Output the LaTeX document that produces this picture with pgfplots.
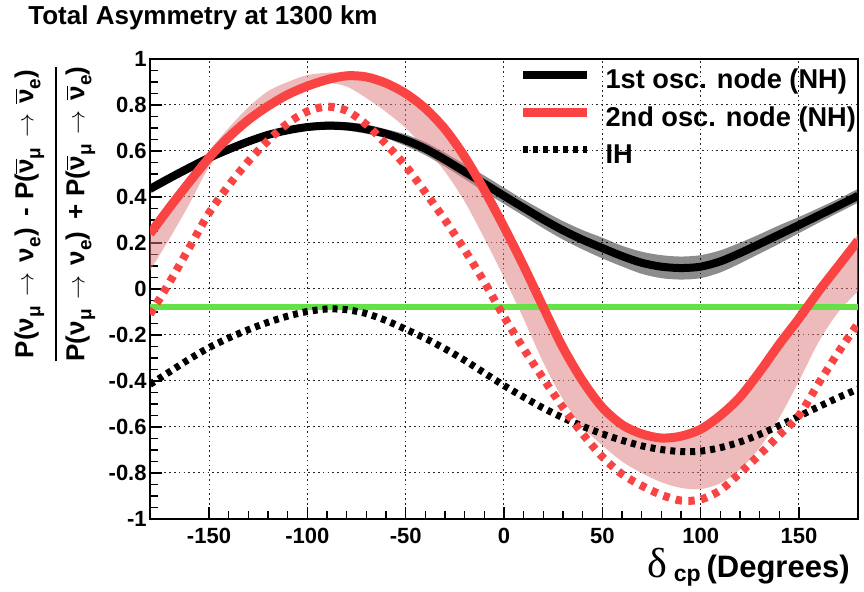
\documentclass[border=0pt]{standalone}
\usepackage{amsmath}
\usepackage{fontspec}
\setmainfont{Liberation Sans}
\newfontfamily\seriffont{Liberation Serif}
\usepackage{pgfplots}
\pgfplotsset{compat=1.18}
\usepgfplotslibrary{fillbetween}
\usepackage{pgfplotstable}

\definecolor{rootred}{RGB}{250,68,68}
\definecolor{rootgreen}{RGB}{100,225,70}
\definecolor{bandred}{RGB}{220,120,120}

\pgfplotstableread{
x y lo hi
-180 0.435 0.415 0.455
-170 0.482 0.462 0.502
-160 0.527 0.507 0.547
-150 0.570 0.552 0.588
-140 0.607 0.589 0.625
-130 0.641 0.625 0.657
-120 0.670 0.655 0.685
-110 0.690 0.675 0.705
-100 0.704 0.689 0.719
-90 0.710 0.692 0.728
-80 0.707 0.689 0.725
-70 0.695 0.675 0.715
-60 0.675 0.655 0.695
-50 0.647 0.622 0.672
-40 0.610 0.582 0.638
-30 0.562 0.532 0.592
-20 0.510 0.478 0.542
-10 0.458 0.423 0.493
0 0.405 0.370 0.440
10 0.353 0.318 0.388
20 0.302 0.264 0.340
30 0.255 0.215 0.295
40 0.214 0.172 0.256
50 0.178 0.133 0.223
60 0.143 0.098 0.188
70 0.114 0.066 0.162
80 0.097 0.047 0.147
90 0.091 0.041 0.141
100 0.097 0.047 0.147
110 0.120 0.072 0.168
120 0.156 0.111 0.201
130 0.196 0.154 0.238
140 0.237 0.197 0.277
150 0.278 0.243 0.313
160 0.320 0.288 0.352
170 0.362 0.332 0.392
180 0.405 0.375 0.435
}\blacktab

\pgfplotstableread{
x y lo hi
-180 0.24 0.08 0.25
-170 0.355 0.22 0.365
-160 0.465 0.37 0.48
-150 0.57 0.53 0.60
-140 0.66 0.63 0.70
-130 0.735 0.71 0.79
-120 0.795 0.775 0.86
-110 0.845 0.83 0.90
-100 0.882 0.87 0.93
-90 0.910 0.895 0.94
-80 0.927 0.88 0.94
-70 0.922 0.83 0.93
-60 0.895 0.77 0.90
-50 0.85 0.70 0.855
-40 0.785 0.61 0.79
-30 0.695 0.51 0.70
-20 0.575 0.38 0.58
-10 0.43 0.22 0.435
0 0.27 0.05 0.275
10 0.10 -0.13 0.105
20 -0.08 -0.32 -0.075
30 -0.255 -0.48 -0.25
40 -0.40 -0.60 -0.395
50 -0.515 -0.68 -0.51
60 -0.59 -0.75 -0.585
70 -0.63 -0.80 -0.625
80 -0.648 -0.84 -0.643
90 -0.64 -0.865 -0.635
100 -0.61 -0.87 -0.605
110 -0.55 -0.845 -0.545
120 -0.47 -0.785 -0.465
130 -0.36 -0.69 -0.355
140 -0.24 -0.56 -0.235
150 -0.128 -0.40 -0.123
160 -0.01 -0.23 -0.005
170 0.10 -0.10 0.11
180 0.21 -0.01 0.24
}\redtab

\pgfplotstableread{
x red black
-180 -0.11 -0.415
-170 0.03 -0.36
-160 0.18 -0.305
-150 0.33 -0.255
-140 0.45 -0.213
-130 0.555 -0.177
-120 0.645 -0.145
-110 0.72 -0.118
-100 0.772 -0.098
-90 0.793 -0.087
-80 0.775 -0.09
-70 0.715 -0.107
-60 0.63 -0.137
-50 0.535 -0.175
-40 0.42 -0.215
-30 0.30 -0.26
-20 0.17 -0.31
-10 0.03 -0.365
0 -0.12 -0.42
10 -0.26 -0.47
20 -0.39 -0.518
30 -0.515 -0.56
40 -0.63 -0.597
50 -0.73 -0.63
60 -0.805 -0.658
70 -0.855 -0.682
80 -0.895 -0.698
90 -0.92 -0.707
100 -0.915 -0.705
110 -0.875 -0.69
120 -0.80 -0.665
130 -0.72 -0.632
140 -0.635 -0.594
150 -0.55 -0.553
160 -0.41 -0.512
170 -0.275 -0.472
180 -0.15 -0.435
}\ihtab

\newcommand{\sbs}[1]{\raisebox{-3.5pt}{\fontsize{9.5}{9.5}\selectfont #1}}
\newcommand{\arr}{\hspace{5pt}\ensuremath{\rightarrow}\hspace{5pt}}
\newcommand{\nub}{\ensuremath{\overline{\mbox{ν}}}}

\begin{document}
\begin{tikzpicture}
\begin{axis}[
  at={(75pt,36.5pt)}, anchor=south west,
  scale only axis, width=354pt, height=230pt,
  xmin=-180, xmax=180, ymin=-1, ymax=1,
  xtick={-150,-100,-50,0,50,100,150},
  ytick={-1,-0.8,-0.6,-0.4,-0.2,0,0.2,0.4,0.6,0.8,1},
  minor x tick num=4, minor y tick num=3,
  tick pos=left, tick align=inside,
  major tick length=6pt, minor tick length=4pt,
  every tick/.style={black, line width=0.6pt},
  grid=major,
  major grid style={black!85, line width=0.5pt, dash pattern=on 0.8pt off 1.6pt},
  axis line style={line width=1pt},
  /pgf/number format/assume math mode=true,
  ticklabel style={font=\fontsize{11}{11}\selectfont\bfseries},
  yticklabel style={inner xsep=1.5pt},
  xticklabel style={yshift=-1pt},
  legend style={at={(0.52,0.98)}, anchor=north west, draw=none, fill=none,
    inner sep=0pt, row sep=5.75pt,
    font=\fontsize{13.6}{13.6}\selectfont\bfseries,
    nodes={inner sep=0pt, text height=10pt, text depth=3pt}},
  legend cell align=left,
  legend image code/.code={\draw[#1] (0pt,3.5pt) -- (32pt,3.5pt); \path (39pt,0pt);},
]
\addlegendimage{black, line width=4pt}
\addlegendentry{1st osc. node (NH)}
\addlegendimage{rootred, line width=4.5pt}
\addlegendentry{2nd osc. node (NH)}
\addlegendimage{black, line width=3.5pt, dash pattern=on 2.5pt off 2.5pt}
\addlegendentry{IH}

\addplot[rootgreen, line width=3pt, forget plot] coordinates {(-180,-0.08) (180,-0.08)};

\addplot[name path=bhi, draw=none, forget plot, smooth] table[x=x, y=hi] {\blacktab};
\addplot[name path=blo, draw=none, forget plot, smooth] table[x=x, y=lo] {\blacktab};
\addplot[black, fill opacity=0.45, forget plot] fill between[of=bhi and blo];
\addplot[black, line width=4pt, smooth, forget plot] table[x=x, y=y] {\blacktab};
\addplot[black, line width=3.5pt, dash pattern=on 2.5pt off 2.5pt, smooth, forget plot] table[x=x, y=black] {\ihtab};

\addplot[name path=rhi, draw=none, forget plot, smooth] table[x=x, y=hi] {\redtab};
\addplot[name path=rlo, draw=none, forget plot, smooth] table[x=x, y=lo] {\redtab};
\addplot[bandred, fill opacity=0.5, forget plot] fill between[of=rhi and rlo];
\addplot[rootred, line width=4.5pt, smooth, forget plot] table[x=x, y=y] {\redtab};
\addplot[rootred, line width=4pt, dash pattern=on 3.2pt off 3.2pt, smooth, forget plot] table[x=x, y=red] {\ihtab};
\end{axis}

\node[anchor=base west, inner sep=0pt, font=\fontsize{13}{13}\selectfont\bfseries] at (14pt,283.5pt) {Total Asymmetry at 1300 km};

\node[rotate=90, inner sep=0pt, font=\fontsize{13}{13}\selectfont\bfseries] at (27.5pt,189pt)
  {$\genfrac{}{}{1pt}{0}{\mbox{\rule[-8pt]{0pt}{8pt}P(ν\sbs{μ}\arr ν\sbs{e})\hspace{6pt}-\hspace{4pt}P(\nub\sbs{μ}\arr\nub\sbs{e})}}{\mbox{\rule{0pt}{10.5pt}P(ν\sbs{μ}\arr ν\sbs{e})\hspace{6pt}+\hspace{4pt}P(\nub\sbs{μ}\arr\nub\sbs{e})}}$};

\node[anchor=base east, inner sep=0pt] at (425pt,7pt)
  {{\seriffont\fontsize{21}{21}\selectfont δ}\hspace{3pt}\raisebox{-2pt}{\fontsize{11.5}{11.5}\selectfont\bfseries cp}\hspace{3pt}{\fontsize{15.5}{15.5}\selectfont\bfseries (Degrees)}};
\pgfresetboundingbox
\path[use as bounding box] (0,0) rectangle (432pt,296pt);
\end{tikzpicture}
\end{document}
